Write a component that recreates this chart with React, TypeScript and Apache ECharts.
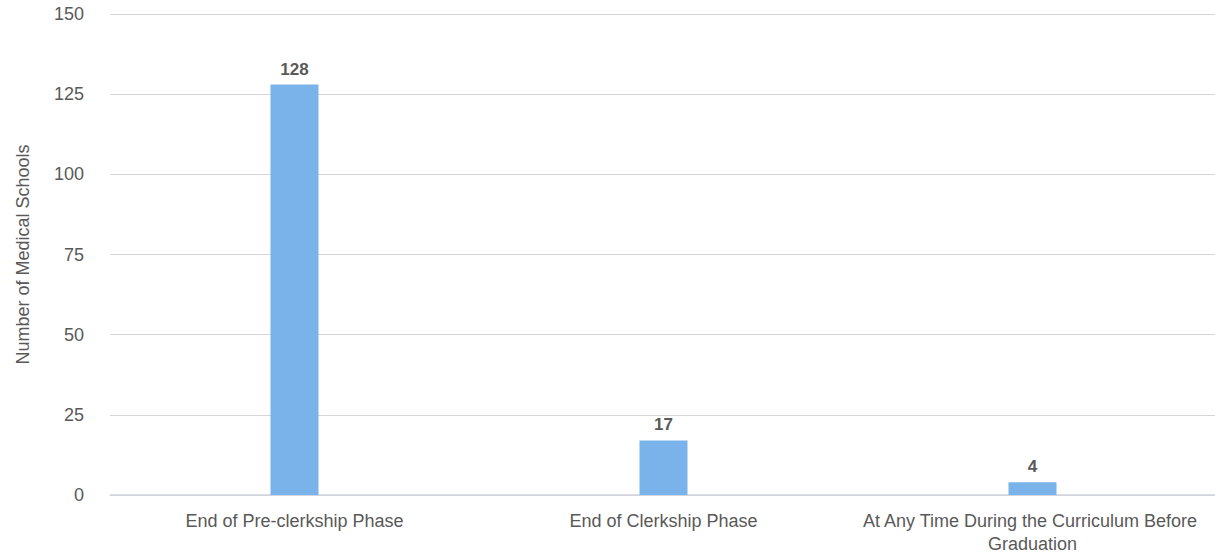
import React, { useEffect, useRef } from "react";
import * as echarts from "echarts";

const categories = [
  "End of Pre-clerkship Phase",
  "End of Clerkship Phase",
  "At Any Time During the Curriculum Before Graduation",
];
const schoolCounts = [128, 17, 4];
const yTicks = { min: 0, max: 150, interval: 25 };
const yAxisTitle = "Number of Medical Schools";

const FONT = "'Liberation Sans', Arial, sans-serif";
const TEXT = "#595959";

export default function App() {
  const ref = useRef<HTMLDivElement>(null);

  useEffect(() => {
    if (!ref.current) return;
    const chart = echarts.init(ref.current, null, { renderer: "svg" });
    chart.setOption({
      animation: false,
      textStyle: { fontFamily: FONT },
      grid: {
        left: 110,
        top: 14,
        width: 1107,
        bottom: 59,
        containLabel: false,
        outerBoundsMode: "none",
      },
      xAxis: {
        type: "category",
        data: categories,
        axisLine: { show: true, lineStyle: { color: "#d0d6de", width: 1.5 } },
        axisTick: { show: false },
        axisLabel: {
          color: TEXT,
          fontSize: 18,
          fontFamily: FONT,
          margin: 14,
          width: 360,
          overflow: "break",
          lineHeight: 23,
          interval: 0,
        },
      },
      yAxis: {
        type: "value",
        min: yTicks.min,
        max: yTicks.max,
        interval: yTicks.interval,
        name: yAxisTitle,
        nameLocation: "middle",
        nameGap: 78,
        nameRotate: 90,
        nameTextStyle: { color: TEXT, fontSize: 18, fontFamily: FONT },
        axisLine: { show: false },
        axisTick: { show: false },
        axisLabel: { color: TEXT, fontSize: 18, fontFamily: FONT, margin: 26 },
        splitLine: { lineStyle: { color: "#d6d6d6", width: 1 } },
      },
      series: [
        {
          type: "bar",
          data: schoolCounts,
          barWidth: 48,
          itemStyle: { color: "#7ab3e9" },
          label: {
            show: true,
            position: "top",
            distance: 7,
            color: TEXT,
            fontSize: 17,
            fontWeight: "bold",
            fontFamily: FONT,
          },
        },
      ],
    });
    return () => chart.dispose();
  }, []);

  return (
    <div
      ref={ref}
      style={{ position: "fixed", left: 0, top: 0, width: 1215, height: 554, background: "#fff" }}
    />
  );
}
